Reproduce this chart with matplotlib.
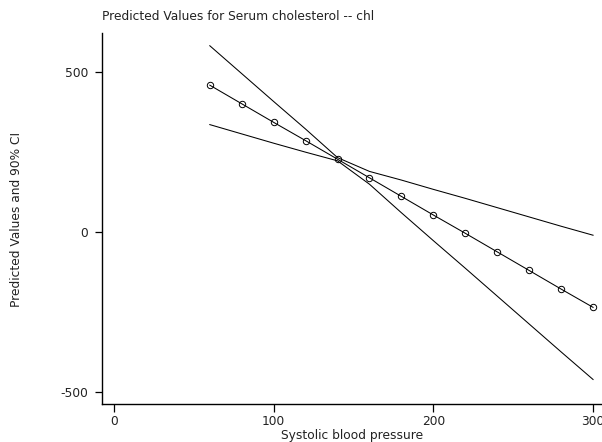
import numpy as np
import matplotlib
matplotlib.use("Agg")
import matplotlib.pyplot as plt

# systolic blood pressure grid and predicted cholesterol with 90% CI
sbp = [60, 80, 100, 120, 140, 160, 180, 200, 220, 240, 260, 280, 300]
pred = [458, 400, 342, 285, 227, 169, 111, 53, -4, -62, -120, -178, -235]
ci_upper = [581, 494, 407, 321, 232, 189, 162, 133, 105, 76, 47, 18, -10]
ci_lower = [335, 306, 277, 249, 222, 149, 60, -27, -113, -200, -287, -374, -460]

xticks = [0, 100, 200, 300]
yticks = [-500, 0, 500]

plt.rcParams['font.family'] = ['DejaVu Sans']
plt.rcParams['font.size'] = 8.8
plt.rcParams['axes.unicode_minus'] = False

txt = '#222222'

fig = plt.figure(figsize=(6.02, 4.42), dpi=100)
ax = fig.add_axes([0.17, 0.0853, 0.83, 0.8400])

lw = 0.75
ax.plot(sbp, ci_upper, color='black', lw=lw)
ax.plot(sbp, ci_lower, color='black', lw=lw)
ax.plot(sbp, pred, color='black', lw=lw, marker='o', markersize=4.6,
        markerfacecolor='none', markeredgecolor='black', markeredgewidth=0.7)

ax.set_xlim(-7.3, 305.6)
ax.set_ylim(-537.4, 620.7)
ax.set_xticks(xticks)
ax.set_yticks(yticks)

for s in ['top', 'right']:
    ax.spines[s].set_visible(False)
for s in ['left', 'bottom']:
    ax.spines[s].set_linewidth(1.0)

ax.tick_params(axis='x', direction='out', length=5.8, width=0.9, pad=2.0, colors='black')
ax.tick_params(axis='y', direction='out', length=5.0, width=0.9, pad=5.0, colors='black')
for lab in ax.get_xticklabels() + ax.get_yticklabels():
    lab.set_color(txt)

ax.set_xlabel('Systolic blood pressure', color=txt, labelpad=0.5)

fig.text(17 / 602, 1 - 219 / 442, 'Predicted Values and 90% CI', rotation=90,
         ha='center', va='center', color=txt)
fig.text(0.169, 0.962, 'Predicted Values for Serum cholesterol -- chl',
         ha='left', va='center', color=txt)

fig.savefig('out.png', dpi=100)
